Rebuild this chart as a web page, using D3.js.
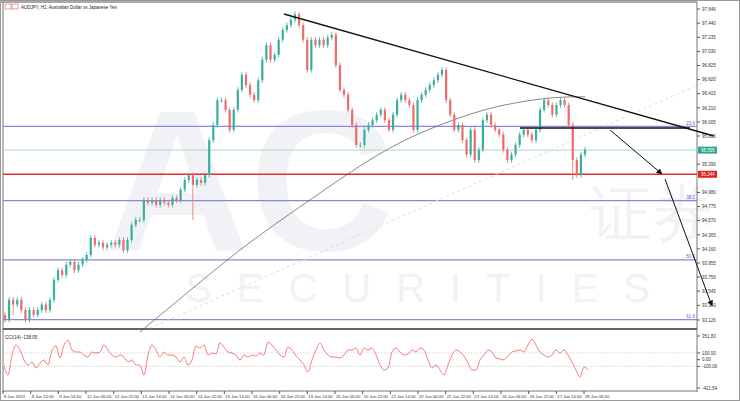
<!DOCTYPE html>
<html>
<head>
<meta charset="utf-8">
<title>AUDJPY H1</title>
<script type="text/javascript" src="https://cdn.jsdelivr.net/npm/d3@7"></script>
<style>
  body { margin: 0; background: #fff; }
  text { font-family: "Liberation Sans", sans-serif; }
</style>
</head>
<body>
<script type="text/javascript">
// closes, H1 bars
var closes = [93.13, 93.42, 93.35, 93.42, 93.27, 93.13, 93.27, 93.20, 93.27, 93.35, 93.27, 93.42, 93.71, 93.85, 93.78, 93.93, 93.97, 93.85, 93.93, 94.00,
  94.07, 94.32, 94.22, 94.25, 94.18, 94.22, 94.25, 94.22, 94.29, 94.14, 94.29, 94.51, 94.58, 94.58, 94.87, 94.83, 94.87, 94.80, 94.87, 94.83,
  94.80, 94.90, 94.87, 95.02, 95.16, 95.23, 95.09, 95.16, 95.12, 95.23, 95.74, 95.96, 96.32, 96.32, 96.18, 95.89, 96.18, 96.47, 96.69, 96.54,
  96.40, 96.32, 96.61, 96.91, 97.12, 96.91, 96.98, 97.20, 97.34, 97.41, 97.49, 97.57,
  97.41, 97.20, 96.76, 97.20, 97.12, 97.20, 97.12, 97.23, 97.27, 96.83, 96.47, 96.40, 96.18, 95.96, 95.67, 95.67, 95.89, 95.96, 96.03, 96.11,
  96.18, 96.03, 95.89, 96.11, 96.32, 96.40, 96.32, 96.25, 95.89, 96.32, 96.40, 96.47, 96.54, 96.61, 96.69, 96.76, 96.32, 96.11, 95.89, 95.96,
  95.74, 95.53, 95.89, 95.45, 95.60, 96.03, 96.11, 95.96, 95.89, 95.82, 95.60, 95.45, 95.53, 95.67, 95.82, 95.89, 95.82, 95.74, 95.89, 96.18,
  96.32, 96.25, 96.11, 96.25, 96.32, 96.25, 95.96, 95.45, 95.23, 95.53, 95.60];
var firstOpen = 93.20;
var longLows = [[46, 94.58], [139, 95.16], [2, 93.20]];

// moving average (bar index, value)
var maPoints = [[33, 92.95], [48, 93.69], [60, 94.27], [72, 94.76], [85, 95.30], [97, 95.74], [111, 96.07], [121, 96.25], [134, 96.37], [142, 96.37]];

var cci = [-94, -228, 69, 218, 144, -5, -79, -35, -124, -50, -5, -79, 144, 203, 25, 218, 292, 144, 114, 114, 69, 39, 114, 99, 114, 218, 144, 69, 39, 69,
  39, -35, -5, -79, -79, -228, 69, 218, 144, 39, 114, 69, 69, 39, -35, 39, -79, -5, 203, 173, 218, 69, 99, 84, 248, 188, 114, 99, 69, -5,
  69, 39, 69, 54, 99, 69, 263, 218, 144, 69, 39, 188, 144, 54, -5, -79, -183, -5, 144, 248, 144, 69, 39, 39, 25, 69, 144, 144, 173, 69,
  173, 144, 173, 69, -79, -154, -124, 114, 173, 114, 69, 84, 144, 114, 173, 144, -5, -124, -79, -154, -228, -79, 69, 144, 114, 54, -50, -154, -154, -5,
  69, 144, 114, 25, 10, -5, 54, 114, 129, 144, 114, 218, 307, 218, 114, 69, 39, 69, 144, 99, 144, 69, -35, -154, -258, -110, -154];

var priceTicks = ["97.646", "97.440", "97.235", "97.030", "96.825", "96.620", "96.415", "96.210", "96.005", "95.800", "95.390",
  "94.980", "94.775", "94.570", "94.365", "94.160", "93.955", "93.750", "93.545", "93.340", "93.126"];
var timeLabels = ["8 Jun 2023", "8 Jun 22:00", "9 Jun 14:00", "12 Jun 06:00", "12 Jun 22:00", "13 Jun 14:00", "14 Jun 06:00", "14 Jun 22:00",
  "15 Jun 14:00", "16 Jun 06:00", "16 Jun 22:00", "19 Jun 14:00", "20 Jun 06:00", "20 Jun 22:00", "21 Jun 14:00", "22 Jun 06:00",
  "22 Jun 22:00", "23 Jun 14:00", "26 Jun 06:00", "26 Jun 22:00", "27 Jun 14:00", "28 Jun 06:00"];
var fibLevels = [["0.0", 97.81], ["23.6", 95.94], ["38.2", 94.86], ["50.0", 94.00], ["61.8", 93.13]];
var cciTicks = ["351.83", "100.00", "0.00", "-100.00", "-421.54"];
var greenLevel = 95.595, redLevel = 95.244;

var W = 740, H = 401, left = 3, right = 697;
var svg = d3.select("body").append("svg").attr("width", W).attr("height", H);
svg.append("rect").attr("width", W).attr("height", H).attr("fill", "#fff");

var x = d3.scaleLinear().domain([0, closes.length - 1]).range([5, 585]);
var y = d3.scaleLinear().domain([93.126, 97.646]).range([320, 9]);
var yc = d3.scaleLinear().domain([-421.54, 351.83]).range([388, 336]);

// watermark
var wm = svg.append("g").attr("fill", "#f1f2f6");
wm.append("text").attr("x", 105).attr("y", 250).attr("font-size", 200).attr("font-weight", "bold").text("AC");
wm.append("text").attr("x", 590).attr("y", 235).attr("font-size", 62).attr("font-family", "Noto Sans CJK SC").text("证券");
wm.append("text").attr("x", 185).attr("y", 302).attr("font-size", 40).attr("letter-spacing", 25).text("SECURITIES");

// frame
svg.append("rect").attr("x", 0.5).attr("y", 0.5).attr("width", W - 1).attr("height", H - 1).attr("fill", "none").attr("stroke", "#999");
svg.append("line").attr("x1", 0).attr("x2", right).attr("y1", 2).attr("y2", 2).attr("stroke", "#aaa").attr("stroke-width", 2);
svg.append("line").attr("x1", left).attr("x2", left).attr("y1", 2).attr("y2", 392).attr("stroke", "#777");
svg.append("line").attr("x1", right).attr("x2", right).attr("y1", 2).attr("y2", 392).attr("stroke", "#777");
svg.append("line").attr("x1", left).attr("x2", right).attr("y1", 329).attr("y2", 329).attr("stroke", "#666").attr("stroke-width", 2);
svg.append("line").attr("x1", left).attr("x2", right).attr("y1", 391).attr("y2", 391).attr("stroke", "#777");

// fib lines
fibLevels.forEach(function(f) {
  svg.append("line").attr("x1", left).attr("x2", right).attr("y1", y(f[1])).attr("y2", y(f[1])).attr("stroke", "#8c86e0").attr("stroke-width", 1.2);
  svg.append("text").attr("x", right - 2).attr("y", y(f[1]) - 1.5).attr("text-anchor", "end").attr("font-size", 4.5).attr("fill", "#6a64d0").text(f[0]);
});
svg.append("line").attr("x1", left).attr("x2", right).attr("y1", y(greenLevel)).attr("y2", y(greenLevel)).attr("stroke", "#a8d8c8");
svg.append("line").attr("x1", left).attr("x2", right).attr("y1", y(redLevel)).attr("y2", y(redLevel)).attr("stroke", "#e03030").attr("stroke-width", 1.3);

// dotted faint trend
svg.append("line").attr("x1", 150).attr("y1", 328).attr("x2", 720).attr("y2", 75).attr("stroke", "#ddd").attr("stroke-dasharray", "3,3");

// moving average
svg.append("path").datum(maPoints).attr("fill", "none").attr("stroke", "#555").attr("stroke-width", 0.7)
  .attr("d", d3.line().curve(d3.curveBasis).x(function(d) { return x(d[0]); }).y(function(d) { return y(d[1]); }));

// candles
var bars = closes.map(function(c, i) {
  var o = i === 0 ? firstOpen : closes[i - 1];
  var lo = Math.min(o, c) - 0.04, hi = Math.max(o, c) + 0.04;
  longLows.forEach(function(l) { if (l[0] === i) lo = l[1]; });
  return { i: i, o: o, c: c, hi: hi, lo: lo };
});
var cg = svg.append("g");
cg.selectAll("line").data(bars).enter().append("line")
  .attr("x1", function(d) { return x(d.i); }).attr("x2", function(d) { return x(d.i); })
  .attr("y1", function(d) { return y(d.hi); }).attr("y2", function(d) { return y(d.lo); })
  .attr("stroke", function(d) { return d.c >= d.o ? "#3aaf9c" : "#ec6b6b"; }).attr("stroke-width", 0.8);
cg.selectAll("rect").data(bars).enter().append("rect")
  .attr("x", function(d) { return x(d.i) - 1.1; }).attr("width", 2.2)
  .attr("y", function(d) { return y(Math.max(d.o, d.c)); })
  .attr("height", function(d) { return Math.max(0.8, Math.abs(y(d.o) - y(d.c))); })
  .attr("fill", function(d) { return d.c >= d.o ? "#3aaf9c" : "#ec6b6b"; });

// hand drawn lines
svg.append("defs").append("marker").attr("id", "ah").attr("viewBox", "0 0 10 10").attr("refX", 9).attr("refY", 5)
  .attr("markerWidth", 6).attr("markerHeight", 6).attr("orient", "auto")
  .append("path").attr("d", "M0,0 L10,5 L0,10 z").attr("fill", "#111");
svg.append("line").attr("x1", 284).attr("y1", 14).attr("x2", 714).attr("y2", 136).attr("stroke", "#111").attr("stroke-width", 1.3);
svg.append("line").attr("x1", 520).attr("y1", 128).attr("x2", 690).attr("y2", 128).attr("stroke", "#111").attr("stroke-width", 1.3);
svg.append("line").attr("x1", 610).attr("y1", 130).attr("x2", 662).attr("y2", 174).attr("stroke", "#111").attr("stroke-width", 1).attr("marker-end", "url(#ah)");
svg.append("line").attr("x1", 665).attr("y1", 179).attr("x2", 712).attr("y2", 306).attr("stroke", "#111").attr("stroke-width", 1).attr("marker-end", "url(#ah)");

// price axis
var ax = svg.append("g").attr("font-size", 4.5).attr("fill", "#333");
priceTicks.forEach(function(t) {
  var v = +t;
  ax.append("line").attr("x1", right).attr("x2", right + 3).attr("y1", y(v)).attr("y2", y(v)).attr("stroke", "#555");
  ax.append("text").attr("x", right + 5).attr("y", y(v) + 1.8).text(t);
});
[[greenLevel, "#2fa58e", "95.595"], [redLevel, "#e02020", "95.244"]].forEach(function(b) {
  svg.append("rect").attr("x", right + 1).attr("y", y(b[0]) - 3.5).attr("width", 19).attr("height", 7).attr("fill", b[1]);
  svg.append("text").attr("x", right + 4).attr("y", y(b[0]) + 1.8).attr("font-size", 4.5).attr("fill", "#fff").text(b[2]);
});

// title
svg.append("rect").attr("x", 5).attr("y", 4).attr("width", 6).attr("height", 5).attr("fill", "none").attr("stroke", "#c66").attr("stroke-width", 0.6);
svg.append("rect").attr("x", 12).attr("y", 4).attr("width", 6).attr("height", 5).attr("fill", "none").attr("stroke", "#c66").attr("stroke-width", 0.6);
svg.append("text").attr("x", 21).attr("y", 8.5).attr("font-size", 4.5).attr("fill", "#222").text("AUDJPY, H1:  Australian Dollar vs Japanese Yen");

// CCI panel
svg.append("text").attr("x", 5).attr("y", 339).attr("font-size", 4.5).attr("fill", "#222").text("CCI(14) -138.05");
[100, -100].forEach(function(v) {
  svg.append("line").attr("x1", left).attr("x2", right).attr("y1", yc(v)).attr("y2", yc(v)).attr("stroke", "#bbb").attr("stroke-dasharray", "1.5,1.5").attr("stroke-width", 0.6);
});
var xc = d3.scaleLinear().domain([0, cci.length - 1]).range([4, 588]);
svg.append("path").datum(cci).attr("fill", "none").attr("stroke", "#ef5f5f").attr("stroke-width", 0.8)
  .attr("d", d3.line().curve(d3.curveMonotoneX).x(function(d, i) { return xc(i); }).y(function(d) { return yc(d); }));
cciTicks.forEach(function(t) {
  var v = +t;
  ax.append("line").attr("x1", right).attr("x2", right + 3).attr("y1", yc(v)).attr("y2", yc(v)).attr("stroke", "#555");
  ax.append("text").attr("x", right + 5).attr("y", yc(v) + 1.8).text(t);
});

// time axis
var xt = d3.scaleLinear().domain([0, timeLabels.length - 1]).range([3, 584]);
timeLabels.forEach(function(t, i) {
  svg.append("line").attr("x1", xt(i)).attr("x2", xt(i)).attr("y1", 391).attr("y2", 394).attr("stroke", "#555");
  svg.append("text").attr("x", xt(i) + 1).attr("y", 397.5).attr("font-size", 4.2).attr("fill", "#333").text(t);
});
</script>
</body>
</html>
